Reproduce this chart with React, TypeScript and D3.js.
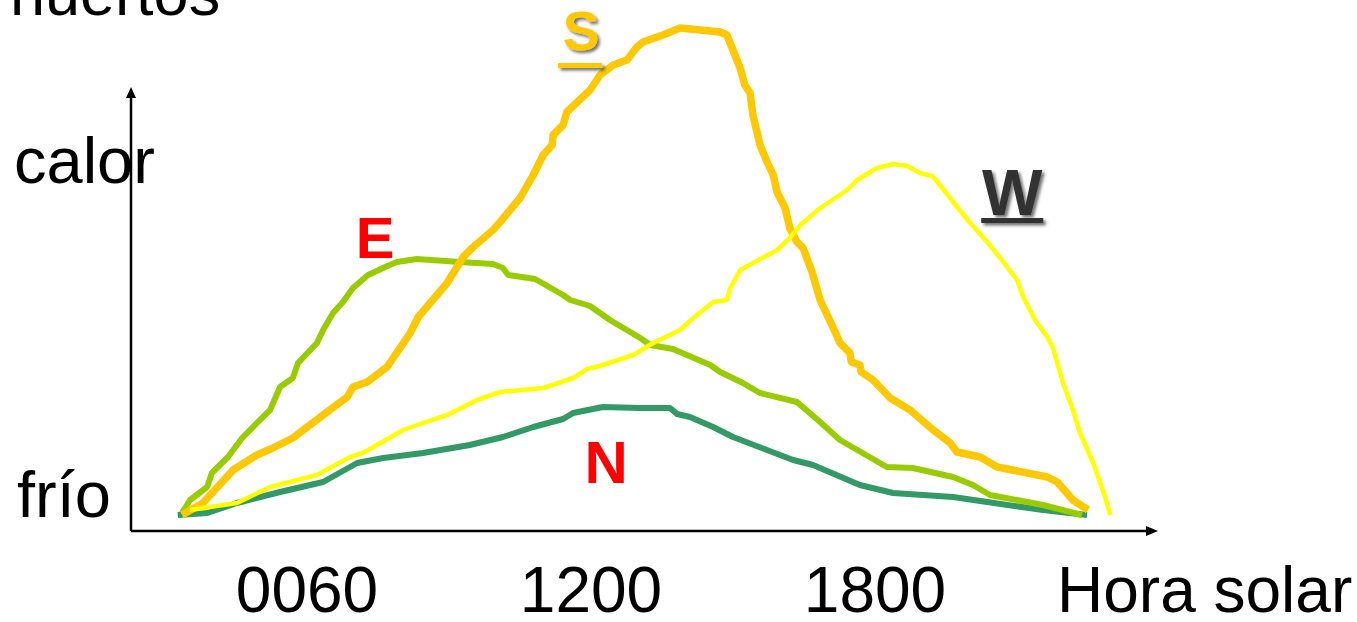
import React from "react";
import * as d3 from "d3";

// Hour of day (solar) vs relative heat gain (0 = frío, 100 = max)
const southSeries: [number, number][] = [
  [3.36, 0], [3.8, 2.4], [4.44, 9], [4.94, 12], [5.28, 13.4], [5.7, 15.4], [6.34, 20], [6.85, 23.6],
  [6.97, 25.6], [7.27, 26.6], [7.69, 29.6], [8.18, 36.4], [8.35, 39.6], [8.96, 46.4], [9.3, 51.6],
  [9.51, 53.6], [9.93, 57], [10.08, 58.6], [10.5, 63.4], [10.78, 68], [10.99, 72], [11.18, 74],
  [11.2, 76], [11.41, 78], [11.49, 80.6], [11.98, 85], [12.19, 88], [12.47, 90], [12.76, 91],
  [12.97, 93.6], [13.1, 94.6], [13.52, 96], [13.88, 97.4], [14.73, 96.6], [14.87, 96],
  [15.15, 89.4], [15.25, 86], [15.36, 84.4], [15.42, 80], [15.57, 74], [15.72, 70.6], [15.85, 68],
  [15.93, 64.6], [16.1, 61.4], [16.2, 57.4], [16.35, 54.6], [16.48, 53.4], [16.67, 48.6],
  [16.84, 43], [17.11, 37.6], [17.26, 34.4], [17.47, 32.4], [17.5, 30.6], [17.68, 30],
  [17.71, 28.6], [17.96, 27], [18.32, 23.4], [18.74, 21], [19.23, 17], [19.59, 14.4],
  [19.73, 12.6], [20.22, 11.6], [20.58, 9.6], [21.64, 7.6], [21.85, 6.6], [22.18, 3], [22.5, 1],
];

const westSeries: [number, number][] = [
  [3.53, 1], [4.52, 2.4], [5.22, 5.6], [6.21, 8], [6.91, 11.6], [7.18, 12.4], [8.03, 17],
  [8.45, 18.4], [8.96, 20], [9.59, 23], [10.08, 24.6], [10.99, 25.4], [11.62, 27.4], [11.92, 29.2],
  [12.25, 30], [12.89, 32], [13.31, 34.4], [13.88, 37], [14.16, 39.4], [14.58, 42.6], [14.87, 43],
  [14.94, 45.4], [15.15, 49], [15.93, 53], [16.2, 55.4], [16.42, 58], [16.84, 61.4], [17.41, 65],
  [17.62, 67], [18.04, 69.4], [18.38, 70.2], [18.68, 69.8], [18.95, 68.4], [19.21, 67.8],
  [19.37, 66], [19.65, 62.6], [20.01, 58.4], [20.37, 54.6], [20.71, 50.6], [21.0, 47],
  [21.13, 43.6], [21.38, 39], [21.64, 35.6], [21.76, 33.4], [21.97, 26.4], [22.16, 21.6],
  [22.33, 16.4], [22.61, 10.4], [22.86, 3.6], [22.97, 0],
];

const eastSeries: [number, number][] = [
  [3.36, 0.4], [3.53, 3], [3.89, 5.6], [3.99, 8.4], [4.33, 11.6], [4.63, 15.4], [4.94, 18.4],
  [5.22, 21], [5.43, 25.6], [5.7, 27.4], [5.81, 30.4], [6.21, 34.4], [6.34, 37], [6.55, 40.4],
  [6.76, 42.6], [6.97, 45.4], [7.29, 48], [7.65, 49.6], [7.9, 50.6], [8.32, 51.2], [9.23, 50.6],
  [9.93, 50.2], [10.14, 49.4], [10.25, 48], [10.82, 47.2], [11.41, 44], [11.56, 43], [11.98, 41.8],
  [12.4, 39], [13.04, 35.4], [13.25, 34], [13.73, 33.2], [14.52, 30], [14.73, 28.6], [15.21, 26.4],
  [15.57, 24.4], [16.35, 22.6], [16.84, 18.6], [17.26, 15], [18.25, 9.6], [18.8, 9.4],
  [19.65, 7.6], [20.07, 6], [20.43, 4], [21.55, 2], [22.37, 0],
];

const northSeries: [number, number][] = [
  [3.27, 0], [3.89, 0.4], [4.52, 2.4], [5.43, 4.6], [6.34, 6.6], [7.06, 10.4], [7.61, 11.4],
  [8.45, 12.4], [9.44, 14], [10.14, 15.6], [10.78, 17.6], [11.41, 19.2], [11.62, 20.4],
  [12.25, 21.6], [13.04, 21.4], [13.67, 21.4], [13.82, 20.2], [14.09, 19.6], [14.58, 17.6],
  [15.0, 15.6], [16.27, 11], [16.69, 10], [17.68, 6], [18.38, 4.4], [19.65, 3.6], [20.37, 2.6],
  [21.55, 1], [22.48, 0],
];

const xTickHours = [6, 12, 18];
const xTickLabels = ["0060", "1200", "1800"];
const yLabelValues = [0, 66];
const yLabelTexts = ["frío", "calor"];

const W = 1357;
const H = 622;
const FONT = "'Liberation Sans', Arial, sans-serif";

export default function App() {
  const x = d3.scaleLinear().domain([6, 18]).range([307, 875]);
  const y = d3.scaleLinear().domain([0, 100]).range([515, 15]);
  const line = d3
    .line<[number, number]>()
    .x((d) => x(d[0]))
    .y((d) => y(d[1]))
    .curve(d3.curveLinear);

  const axisX0 = 131;
  const axisY0 = 531;

  const series = [
    { data: northSeries, color: "#339966", width: 6 },
    { data: eastSeries, color: "#99CC00", width: 6 },
    { data: southSeries, color: "#FFC800", width: 7.5 },
    { data: westSeries, color: "#FFFF00", width: 4.5 },
  ];

  return (
    <svg
      width={W}
      height={H}
      style={{ position: "absolute", left: 0, top: 0, background: "#fff" }}
      fontFamily={FONT}
    >
      <defs>
        <filter id="shadow" x="-20%" y="-20%" width="150%" height="150%">
          <feDropShadow dx="2.5" dy="2.5" stdDeviation="1.5" floodColor="#000" floodOpacity="0.55" />
        </filter>
      </defs>
      <rect width={W} height={H} fill="#fff" />

      {/* title fragment cut at top */}
      <text x={10} y={15} fontSize={63} fill="#000">huertos</text>

      {/* axes */}
      <line x1={axisX0} y1={axisY0} x2={axisX0} y2={95} stroke="#000" strokeWidth={2.5} />
      <path d={`M${axisX0},87 L${axisX0 - 5},98 L${axisX0 + 5},98 Z`} fill="#000" />
      <line x1={axisX0} y1={axisY0} x2={1148} y2={axisY0} stroke="#000" strokeWidth={2.5} />
      <path d={`M1158,${axisY0} L1146,${axisY0 - 5} L1146,${axisY0 + 5} Z`} fill="#000" />

      {/* y labels */}
      {yLabelValues.map((v, i) => (
        <text key={i} x={i === 0 ? 17 : 14} y={y(v) + (i === 0 ? 2 : -2)} fontSize={65} fill="#000">
          {yLabelTexts[i]}
        </text>
      ))}

      {/* x tick labels */}
      {xTickHours.map((h, i) => (
        <text key={i} x={x(h)} y={612} fontSize={64} textAnchor="middle" fill="#000">
          {xTickLabels[i]}
        </text>
      ))}
      <text x={1057} y={612} fontSize={64} fill="#000">Hora solar</text>

      {/* curves */}
      {series.map((s, i) => (
        <path
          key={i}
          d={line(s.data) || ""}
          fill="none"
          stroke={s.color}
          strokeWidth={s.width}
          strokeLinejoin="round"
        />
      ))}

      {/* labels */}
      <text x={x(7.44)} y={y(51.4)} fontSize={58} fontWeight="bold" fill="#FF0000" textAnchor="middle">E</text>
      <text x={x(12.32)} y={y(6.4)} fontSize={60} fontWeight="bold" fill="#FF0000" textAnchor="middle">N</text>

      <g filter="url(#shadow)">
        <text x={x(11.79)} y={y(93)} fontSize={55} fontWeight="bold" fill="#FFC800" textAnchor="middle">S</text>
        <rect x={x(11.79) - 23} y={63} width={44} height={5} fill="#FFC800" />
        <text x={x(20.9)} y={y(60)} fontSize={64} fontWeight="bold" fill="#333333" textAnchor="middle">W</text>
        <rect x={x(20.9) - 31} y={218} width={62} height={5} fill="#333333" />
      </g>
    </svg>
  );
}
